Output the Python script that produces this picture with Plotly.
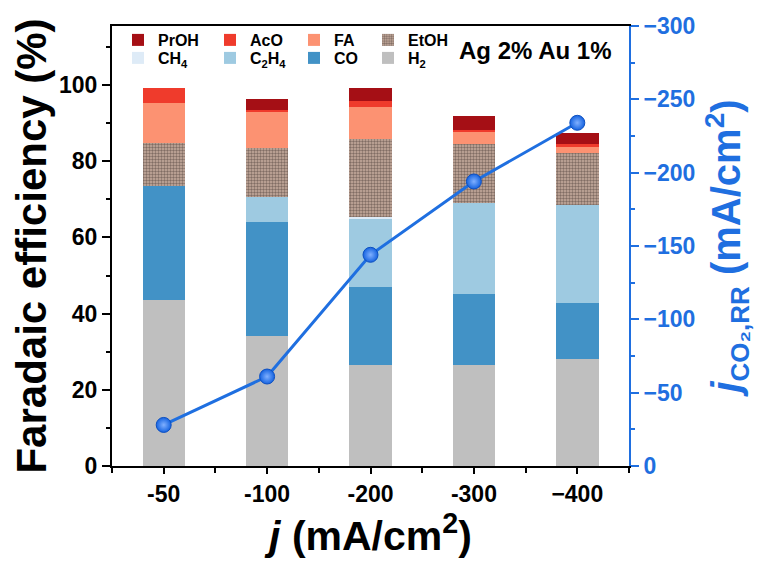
import plotly.graph_objects as go

categories = ["-50", "-100", "-200", "-300", "\u2212400"]
H2 = [43.6, 34.0, 26.5, 26.6, 28.1]
CO = [29.9, 30.1, 20.6, 18.5, 14.7]
C2H4 = [0.0, 6.4, 17.9, 24.0, 25.7]
CH4 = [0.0, 0.0, 0.3, 0.0, 0.0]
EtOH = [11.4, 13.1, 20.6, 15.4, 13.6]
FA = [10.5, 9.4, 8.3, 3.1, 1.7]
AcO = [3.7, 0.5, 1.5, 0.6, 0.6]
PrOH = [0.0, 2.9, 3.6, 3.8, 3.0]
j_co2rr = [-28, -61, -144, -194, -234]

FONT = "Liberation Sans, Arial, sans-serif"
BLUE = "#1f6fe0"
xpos = list(range(len(categories)))

# plot area in page pixels (page has an 8px body margin)
L, T, PW, PH = 104, 18, 517, 440

fig = go.Figure()

series = [
    ("H<sub>2</sub>", H2, "#bfbfbf", "legend8", None),
    ("CO", CO, "#4292c6", "legend7", None),
    ("C<sub>2</sub>H<sub>4</sub>", C2H4, "#9ecae1", "legend6", None),
    ("CH<sub>4</sub>", CH4, "#deebf7", "legend5", None),
    ("EtOH", EtOH, "#c8aea0", "legend4", "."),
    ("FA", FA, "#fc9272", "legend3", None),
    ("AcO", AcO, "#ef3b2c", "legend2", None),
    ("PrOH", PrOH, "#a50f15", "legend", None),
]
for name, vals, col, leg, pat in series:
    marker = dict(color=col, line=dict(width=0))
    if pat:
        marker["pattern"] = dict(shape=pat, fgcolor="#3a2c28", bgcolor=col,
                                 size=3, solidity=0.5, fillmode="overlay")
    fig.add_trace(go.Bar(x=xpos, y=vals, name=name, marker=marker,
                         width=0.41, legend=leg))

fig.add_trace(go.Scatter(x=xpos, y=j_co2rr, yaxis="y2", mode="lines+markers",
                         line=dict(color=BLUE, width=3),
                         marker=dict(size=15, color="#1563e0",
                                     line=dict(color="#0d4fc0", width=1),
                                     gradient=dict(type="radial", color="#80b0ff")),
                         showlegend=False))

legfont = dict(family=FONT, size=16, color="black", weight="bold")
def leg(xpx, ypx):
    return dict(x=(xpx - 112) / PW, y=(466 - ypx) / PH, xanchor="left",
                yanchor="middle", bgcolor="rgba(0,0,0,0)", font=legfont,
                itemwidth=30)

# text starts (reference coords) at 160, 252, 336, 410 ; rows at y 40 and 58
cols = [118, 210, 294, 368]
legends = {}
names = ["legend", "legend2", "legend3", "legend4",
         "legend5", "legend6", "legend7", "legend8"]
for i, nm in enumerate(names):
    legends[nm] = leg(cols[i % 4], 40 if i < 4 else 58)

fig.update_layout(
    width=763, height=564,
    margin=dict(l=L, r=763 - L - PW, t=T, b=564 - T - PH, autoexpand=False),
    paper_bgcolor="white", plot_bgcolor="white",
    barmode="stack",
    font=dict(family=FONT, color="black"),
    **legends,
    xaxis=dict(range=[-0.5, 4.5], tickvals=xpos, ticktext=categories,
               showline=True, linecolor="black", linewidth=2, mirror=True,
               ticks="outside", ticklen=6, tickwidth=2, tickcolor="black",
               minor=dict(dtick=0.5, tick0=-0.5, ticks="outside", ticklen=5,
                          tickwidth=2, tickcolor="black"),
               showgrid=False, zeroline=False,
               tickfont=dict(family=FONT, size=23, weight="bold"),
               title=dict(text="<i>j</i> (mA/cm<sup>2</sup>)", standoff=12,
                          font=dict(family=FONT, size=41, weight="bold"))),
    yaxis=dict(range=[0, 115.5], tickvals=[0, 20, 40, 60, 80, 100],
               showline=True, linecolor="black", linewidth=2,
               ticks="outside", ticklen=8, tickwidth=2, tickcolor="black",
               minor=dict(dtick=10, ticks="outside", ticklen=4, tickwidth=2,
                          tickcolor="black"),
               showgrid=False, zeroline=False,
               tickfont=dict(family=FONT, size=23, weight="bold"),
               title=dict(text="Faradaic efficiency (%)", standoff=4,
                          font=dict(family=FONT, size=42, weight="bold"))),
    yaxis2=dict(overlaying="y", side="right", range=[0, -300],
                tickvals=[0, -50, -100, -150, -200, -250, -300],
                showline=True, linecolor=BLUE, linewidth=2,
                ticks="outside", ticklen=8, tickwidth=2, tickcolor=BLUE,
                minor=dict(dtick=25, ticks="outside", ticklen=4, tickwidth=2,
                           tickcolor=BLUE),
                showgrid=False, zeroline=False,
                tickfont=dict(family=FONT, size=23, weight="bold", color=BLUE),
                title=dict(text="<i>j</i><sub><span style='font-size:26px'>CO\u2082,RR</span></sub> (mA/cm<sup>2</sup>)",
                           standoff=18,
                           font=dict(family=FONT, size=40, weight="bold", color=BLUE))),
    annotations=[dict(text="Ag 2% Au 1%", xref="paper", yref="paper",
                      x=(613 - 112) / PW, y=(466 - 50) / PH,
                      xanchor="right", yanchor="middle", showarrow=False,
                      font=dict(family=FONT, size=24, weight="bold", color="black"))],
)

fig.write_html("out.html")
